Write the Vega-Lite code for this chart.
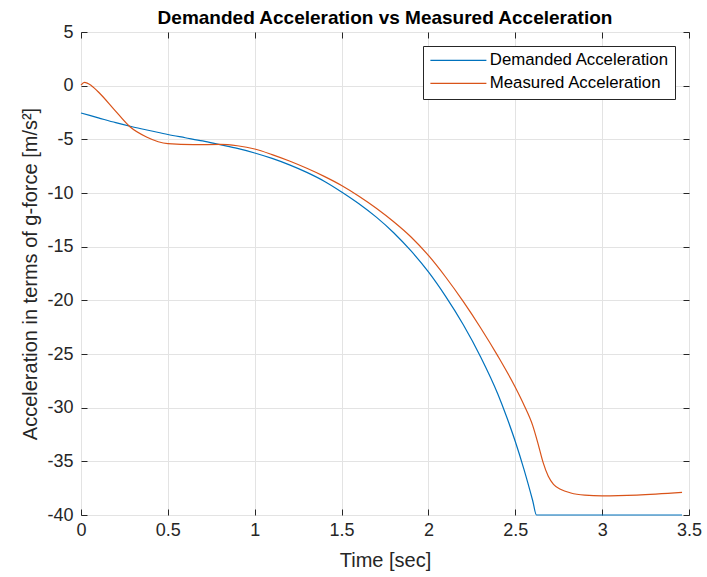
{
  "$schema": "https://vega.github.io/schema/vega-lite/v6.json",
  "width": 608,
  "height": 483,
  "autosize": {"type": "none"},
  "padding": {"left": 81, "top": 32, "right": 18, "bottom": 62},
  "background": "white",
  "title": {"text": "Demanded Acceleration vs Measured Acceleration", "font": "Liberation Sans", "fontSize": 19, "fontWeight": "bold", "color": "black", "offset": -5, "anchor": "middle"},
  "config": {
    "view": {"stroke": "#262626", "strokeWidth": 1},
    "axis": {"font": "Liberation Sans", "labelFont": "Liberation Sans", "titleFont": "Liberation Sans", "labelFontSize": 18, "titleFontSize": 20, "titleFontWeight": "normal", "labelColor": "#262626", "titleColor": "#262626", "tickColor": "#262626", "domain": false, "gridColor": "#e3e3e3", "gridWidth": 1},
    "legend": {"labelFont": "Liberation Sans"}
  },
  "data": {"values": [
    {"t": 0, "a": -2.55, "s": "Demanded Acceleration"},
    {"t": 0.1, "a": -3.0, "s": "Demanded Acceleration"},
    {"t": 0.2, "a": -3.45, "s": "Demanded Acceleration"},
    {"t": 0.3, "a": -3.85, "s": "Demanded Acceleration"},
    {"t": 0.4, "a": -4.2, "s": "Demanded Acceleration"},
    {"t": 0.5, "a": -4.55, "s": "Demanded Acceleration"},
    {"t": 0.6, "a": -4.85, "s": "Demanded Acceleration"},
    {"t": 0.7, "a": -5.15, "s": "Demanded Acceleration"},
    {"t": 0.8, "a": -5.5, "s": "Demanded Acceleration"},
    {"t": 0.9, "a": -5.85, "s": "Demanded Acceleration"},
    {"t": 1.0, "a": -6.27, "s": "Demanded Acceleration"},
    {"t": 1.1, "a": -6.78, "s": "Demanded Acceleration"},
    {"t": 1.2, "a": -7.38, "s": "Demanded Acceleration"},
    {"t": 1.3, "a": -8.08, "s": "Demanded Acceleration"},
    {"t": 1.4, "a": -8.9, "s": "Demanded Acceleration"},
    {"t": 1.5, "a": -9.9, "s": "Demanded Acceleration"},
    {"t": 1.6, "a": -11.0, "s": "Demanded Acceleration"},
    {"t": 1.7, "a": -12.25, "s": "Demanded Acceleration"},
    {"t": 1.8, "a": -13.7, "s": "Demanded Acceleration"},
    {"t": 1.9, "a": -15.4, "s": "Demanded Acceleration"},
    {"t": 2.0, "a": -17.35, "s": "Demanded Acceleration"},
    {"t": 2.1, "a": -19.65, "s": "Demanded Acceleration"},
    {"t": 2.2, "a": -22.25, "s": "Demanded Acceleration"},
    {"t": 2.3, "a": -25.25, "s": "Demanded Acceleration"},
    {"t": 2.4, "a": -28.75, "s": "Demanded Acceleration"},
    {"t": 2.45, "a": -30.85, "s": "Demanded Acceleration"},
    {"t": 2.5, "a": -33.15, "s": "Demanded Acceleration"},
    {"t": 2.55, "a": -35.75, "s": "Demanded Acceleration"},
    {"t": 2.6, "a": -38.65, "s": "Demanded Acceleration"},
    {"t": 2.622, "a": -40, "s": "Demanded Acceleration"},
    {"t": 3.0, "a": -40, "s": "Demanded Acceleration"},
    {"t": 3.46, "a": -40, "s": "Demanded Acceleration"},
    {"t": 0, "a": 0.05, "s": "Measured Acceleration"},
    {"t": 0.02, "a": 0.3, "s": "Measured Acceleration"},
    {"t": 0.06, "a": 0.0, "s": "Measured Acceleration"},
    {"t": 0.11, "a": -0.75, "s": "Measured Acceleration"},
    {"t": 0.19, "a": -2.2, "s": "Measured Acceleration"},
    {"t": 0.28, "a": -3.8, "s": "Measured Acceleration"},
    {"t": 0.38, "a": -4.8, "s": "Measured Acceleration"},
    {"t": 0.5, "a": -5.4, "s": "Measured Acceleration"},
    {"t": 0.65, "a": -5.5, "s": "Measured Acceleration"},
    {"t": 0.8, "a": -5.47, "s": "Measured Acceleration"},
    {"t": 0.9, "a": -5.6, "s": "Measured Acceleration"},
    {"t": 1.0, "a": -5.9, "s": "Measured Acceleration"},
    {"t": 1.1, "a": -6.42, "s": "Measured Acceleration"},
    {"t": 1.2, "a": -7.02, "s": "Measured Acceleration"},
    {"t": 1.3, "a": -7.7, "s": "Measured Acceleration"},
    {"t": 1.4, "a": -8.45, "s": "Measured Acceleration"},
    {"t": 1.5, "a": -9.3, "s": "Measured Acceleration"},
    {"t": 1.6, "a": -10.3, "s": "Measured Acceleration"},
    {"t": 1.7, "a": -11.42, "s": "Measured Acceleration"},
    {"t": 1.8, "a": -12.68, "s": "Measured Acceleration"},
    {"t": 1.9, "a": -14.1, "s": "Measured Acceleration"},
    {"t": 2.0, "a": -15.82, "s": "Measured Acceleration"},
    {"t": 2.1, "a": -17.85, "s": "Measured Acceleration"},
    {"t": 2.2, "a": -20.1, "s": "Measured Acceleration"},
    {"t": 2.3, "a": -22.55, "s": "Measured Acceleration"},
    {"t": 2.4, "a": -25.2, "s": "Measured Acceleration"},
    {"t": 2.5, "a": -28.1, "s": "Measured Acceleration"},
    {"t": 2.55, "a": -29.75, "s": "Measured Acceleration"},
    {"t": 2.6, "a": -31.65, "s": "Measured Acceleration"},
    {"t": 2.63, "a": -33.3, "s": "Measured Acceleration"},
    {"t": 2.66, "a": -35.1, "s": "Measured Acceleration"},
    {"t": 2.69, "a": -36.4, "s": "Measured Acceleration"},
    {"t": 2.72, "a": -37.15, "s": "Measured Acceleration"},
    {"t": 2.76, "a": -37.6, "s": "Measured Acceleration"},
    {"t": 2.82, "a": -37.95, "s": "Measured Acceleration"},
    {"t": 2.9, "a": -38.15, "s": "Measured Acceleration"},
    {"t": 3.0, "a": -38.22, "s": "Measured Acceleration"},
    {"t": 3.2, "a": -38.15, "s": "Measured Acceleration"},
    {"t": 3.46, "a": -37.9, "s": "Measured Acceleration"}
  ]},
  "layer": [
    {
      "mark": {"type": "line", "interpolate": "monotone", "strokeWidth": 1.2},
      "encoding": {
        "x": {"field": "t", "type": "quantitative", "scale": {"domain": [0, 3.5], "nice": false, "zero": false},
              "axis": {"title": "Time [sec]", "values": [0, 0.5, 1, 1.5, 2, 2.5, 3, 3.5], "labelExpr": "datum.value + ''", "tickSize": -6, "labelPadding": 12, "titlePadding": 11, "grid": true, "labelFlush": false}},
        "y": {"field": "a", "type": "quantitative", "scale": {"domain": [-40, 5], "nice": false, "zero": false},
              "axis": {"title": "Acceleration in terms of g-force [m/s²]", "values": [-40, -35, -30, -25, -20, -15, -10, -5, 0, 5], "labelExpr": "datum.value + ''", "tickSize": -6, "labelPadding": 14, "titlePadding": 6, "grid": true}},
        "color": {"field": "s", "type": "nominal",
                  "scale": {"domain": ["Demanded Acceleration", "Measured Acceleration"], "range": ["#0072BD", "#D95319"]},
                  "legend": {"title": null, "orient": "top-right", "offset": 14, "strokeColor": "#262626", "fillColor": "white", "padding": 6, "labelFontSize": 16.8, "labelColor": "black", "labelLimit": 400, "symbolType": "M-4,0H4", "symbolSize": 196, "symbolStrokeWidth": 1.2, "labelOffset": 23, "symbolOffset": 21, "rowPadding": 5, "cornerRadius": 0}}
      }
    },
    {
      "mark": {"type": "line", "strokeOpacity": 0},
      "encoding": {
        "x": {"field": "t", "type": "quantitative", "axis": {"orient": "top", "title": null, "labels": false, "grid": false, "values": [0, 0.5, 1, 1.5, 2, 2.5, 3, 3.5], "tickSize": -6}},
        "y": {"field": "a", "type": "quantitative", "axis": {"orient": "right", "title": null, "labels": false, "grid": false, "values": [-40, -35, -30, -25, -20, -15, -10, -5, 0, 5], "tickSize": -6}}
      }
    }
  ],
  "resolve": {"axis": {"x": "independent", "y": "independent"}}
}
